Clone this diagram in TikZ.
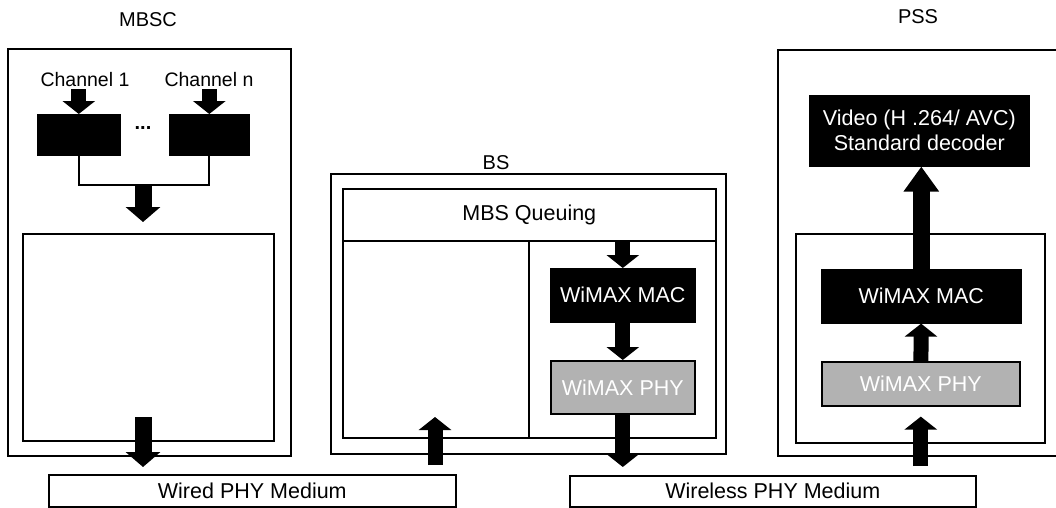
\documentclass[tikz,border=0pt]{standalone}
\usepackage{fontspec}
\setmainfont{Liberation Sans}
\usetikzlibrary{arrows.meta,positioning}
\tikzset{
  layerbox/.style={draw, line width=1.6pt, anchor=north west, inner sep=0pt,
    align=center, font=\fontsize{21.5}{25}\selectfont},
  darkbox/.style={layerbox, fill=black, text=white},
  phybox/.style={layerbox, fill=black!30, text=white},
  sz/.style 2 args={minimum width=#1pt, minimum height=#2pt},
  titlelabel/.style={font=\fontsize{20}{24}\selectfont},
  chanlabel/.style={font=\fontsize{19.5}{22}\selectfont, inner sep=2pt},
  blockarrow/.style={line width=15pt, -{Triangle[length=13pt, width=32pt]}},
  bigarrow/.style={line width=17pt, -{Triangle[length=15pt, width=34pt]}},
  tallarrow/.style={line width=17pt, -{Triangle[length=25pt, width=34pt]}}
}

\begin{document}
\begin{tikzpicture}[x=1pt, y=-1pt]
    \useasboundingbox (0,0) rectangle (1056,507);
    % MBSC side
    \node[titlelabel] (mbsclabel) at (148,20) {MBSC};
    \node[layerbox, sz={283}{407}] (mbsc) at (7,48) {};
    \node[layerbox, sz={251}{207}] (mbscin) at (22,233) {};
    \node[darkbox, sz={82}{40}] (ch1) at (37,114) {};
    \node[darkbox, sz={79}{40}] (chn) at (169,114) {};
    \node[font=\bfseries\fontsize{20}{24}\selectfont] (dots) at (143,128) {...};
    \node[chanlabel] (ch1label) at (85,80) {Channel 1};
    \node[chanlabel] (chnlabel) at (209,80) {Channel n};
    \coordinate (merge) at (143,185);
    \coordinate (mbscout) at (143,417);
    \node[layerbox, sz={407}{32}] (wired) at (48,474) {Wired PHY Medium};
    \draw[blockarrow] (ch1label.south -| ch1.north) -- (ch1.north);
    \draw[blockarrow] (chnlabel.south -| chn.north) -- (chn.north);
    \draw[line width=1.8pt] (ch1.south) |- (merge) -| (chn.south);
    \draw[bigarrow, shorten >=11pt] (merge) -- (merge |- mbscin.north);
    \draw[bigarrow, shorten >=7pt] (mbscout) -- (mbscout |- wired.north);

    % BS
    \node[titlelabel] (bslabel) at (496,163) {BS};
    \node[layerbox, sz={395}{280}] (bs) at (330,173) {};
    \node[layerbox, sz={373}{249}] (bsin) at (342,188) {};
    \node[layerbox, sz={373}{52}] (queue) at (342,188) {MBS Queuing};
    \node[layerbox, sz={186}{197}] (bsleft) at (342,240) {};
    \node[darkbox, sz={144}{53}] (bsmac) at (550,268) {WiMAX MAC};
    \node[phybox, sz={144}{53}] (bsphy) at (550,360) {WiMAX PHY};
    \coordinate (bsup) at (435,417);
    \node[layerbox, sz={406}{31}] (wireless) at (569,475) {Wireless PHY Medium};
    \draw[blockarrow] (queue.south -| bsmac.north) -- (bsmac.north);
    \draw[blockarrow] (bsmac) -- (bsphy);
    \draw[blockarrow, shorten >=8pt] (bsphy) -- (bsphy |- wireless.north);
    \draw[blockarrow, shorten <=9pt] (bsup |- wired.north) -- (bsup);

    % PSS
    \node[titlelabel] (psslabel) at (918,17) {PSS};
    \node[layerbox, sz={290}{406}] (pss) at (777,49) {};
    \node[layerbox, sz={249}{209}] (pssin) at (795,233) {};
    \node[darkbox, sz={219}{70}] (video) at (809,95) {Video (H .264/ AVC)\\Standard decoder};
    \node[darkbox, sz={199}{53}] (pssmac) at (821,269) {WiMAX MAC};
    \node[phybox, sz={198}{44}] (pssphy) at (821,361) {WiMAX PHY};
    \draw[tallarrow] (pssmac.north) -- (pssmac.north |- video.south);
    \draw[blockarrow] (pssphy) -- (pssmac);
    \draw[blockarrow, shorten <=9pt, shorten >=10pt] (wireless.north -| pssphy.south) -- (pssphy.south);
\end{tikzpicture}
\end{document}
